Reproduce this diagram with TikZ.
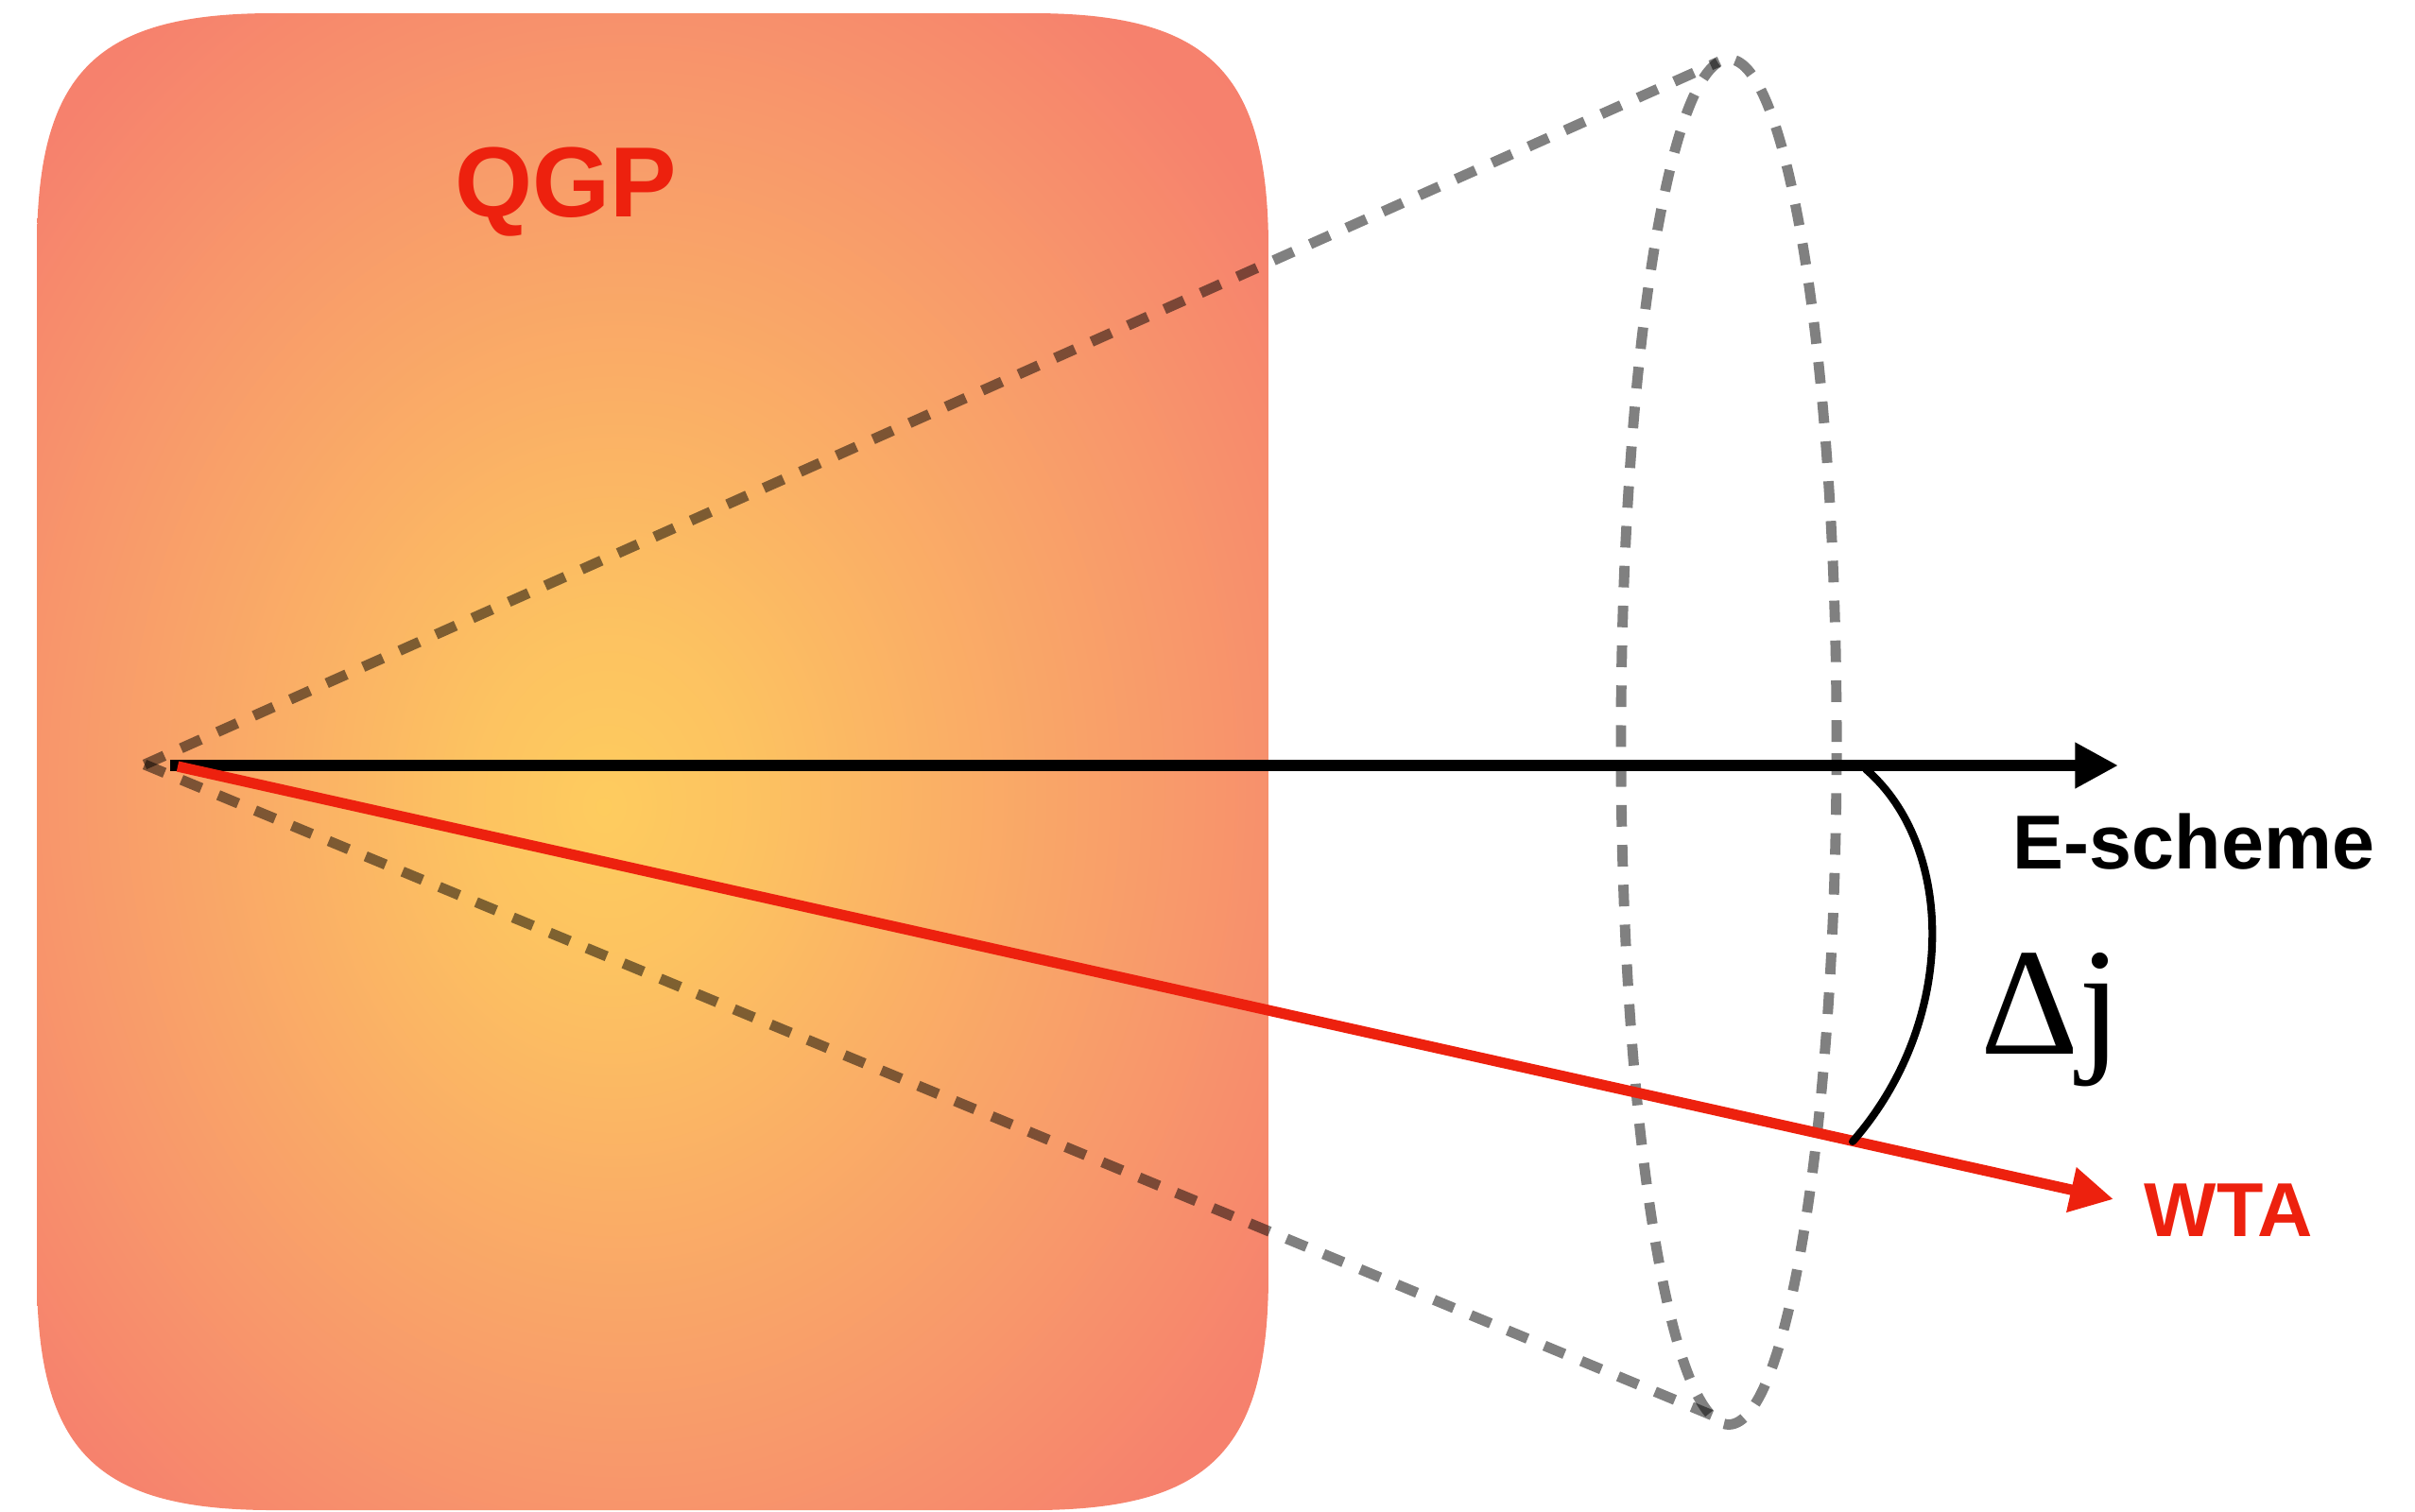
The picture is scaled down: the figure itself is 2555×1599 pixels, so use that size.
\documentclass[tikz,border=0pt]{standalone}
\usepackage{fontspec}
\setmainfont{Liberation Sans}
\newfontfamily\serifdj{Liberation Serif}
\usetikzlibrary{arrows.meta}
\definecolor{qgpred}{RGB}{237,33,14}
\definecolor{conegray}{RGB}{128,128,128}
\pgfdeclareradialshading{qgpshade}{\pgfpoint{-2bp}{-1.5bp}}{rgb(0bp)=(0.996,0.80,0.37); rgb(6bp)=(0.99,0.76,0.38); rgb(14bp)=(0.98,0.68,0.40); rgb(23bp)=(0.972,0.595,0.42); rgb(32bp)=(0.965,0.505,0.428); rgb(50bp)=(0.96,0.49,0.43)}
\tikzset{
  conedash/.style={draw=conegray, line width=3.1pt, dash pattern=on 6.5pt off 5.5pt, blend mode=multiply},
  jetaxis/.style={line width=3.2pt, -{Triangle[length=13pt,width=13pt]}},
  lbl/.style={inner sep=0pt, anchor=base, font=\bfseries\fontsize{23}{23}\selectfont}
}
\begin{document}
\begin{tikzpicture}[x=0.01cm,y=-0.01cm]
\useasboundingbox (0,0) rectangle (2555,1599);
% QGP medium
\shade[shading=qgpshade] (39,264) .. controls (39,76.5) and (101.5,14) .. (289,14)
  -- (1092,14) .. controls (1279.5,14) and (1342,76.5) .. (1342,264)
  -- (1342,1348) .. controls (1342,1535.5) and (1279.5,1598) .. (1092,1598)
  -- (289,1598) .. controls (101.5,1598) and (39,1535.5) .. (39,1348) -- cycle;
\node[lbl, text=qgpred, font=\bfseries\fontsize{30}{30}\selectfont] (qgp) at (599,229) {QGP};
% cone
\coordinate (apex) at (153,809);
\coordinate (conetop) at (1819,65);
\coordinate (conebot) at (1817,1500);
\coordinate (ecenter) at (1829,785);
\draw[conedash] (apex) -- (conetop);
\draw[conedash] (apex) -- (conebot);
\draw[conedash] (ecenter) ellipse [x radius=1.14cm, y radius=7.22cm];
% axes
\coordinate (estart) at (180,810);
\coordinate (etip) at (2241,810);
\coordinate (wstart) at (188,811);
\coordinate (wtip) at (2236,1269);
\draw[jetaxis, draw=black, fill=black] (estart) -- (etip);
\draw[jetaxis, draw=qgpred, fill=qgpred] (wstart) -- (wtip);
% angle
\coordinate (arcA) at (1974,814);
\coordinate (arcB) at (1960,1208);
\draw[line width=2.3pt, line cap=round] (arcA) .. controls (2068,895) and (2072,1080) .. (arcB);
% labels
\node[lbl, text=black] (escheme) at (2321,919) {E-scheme};
\node[lbl, text=qgpred] (wta) at (2358,1308) {WTA};
\node[inner sep=0pt, anchor=base, font=\serifdj\fontsize{46}{46}\selectfont] (dj) at (2170,1115) {Δj};
\end{tikzpicture}
\end{document}
